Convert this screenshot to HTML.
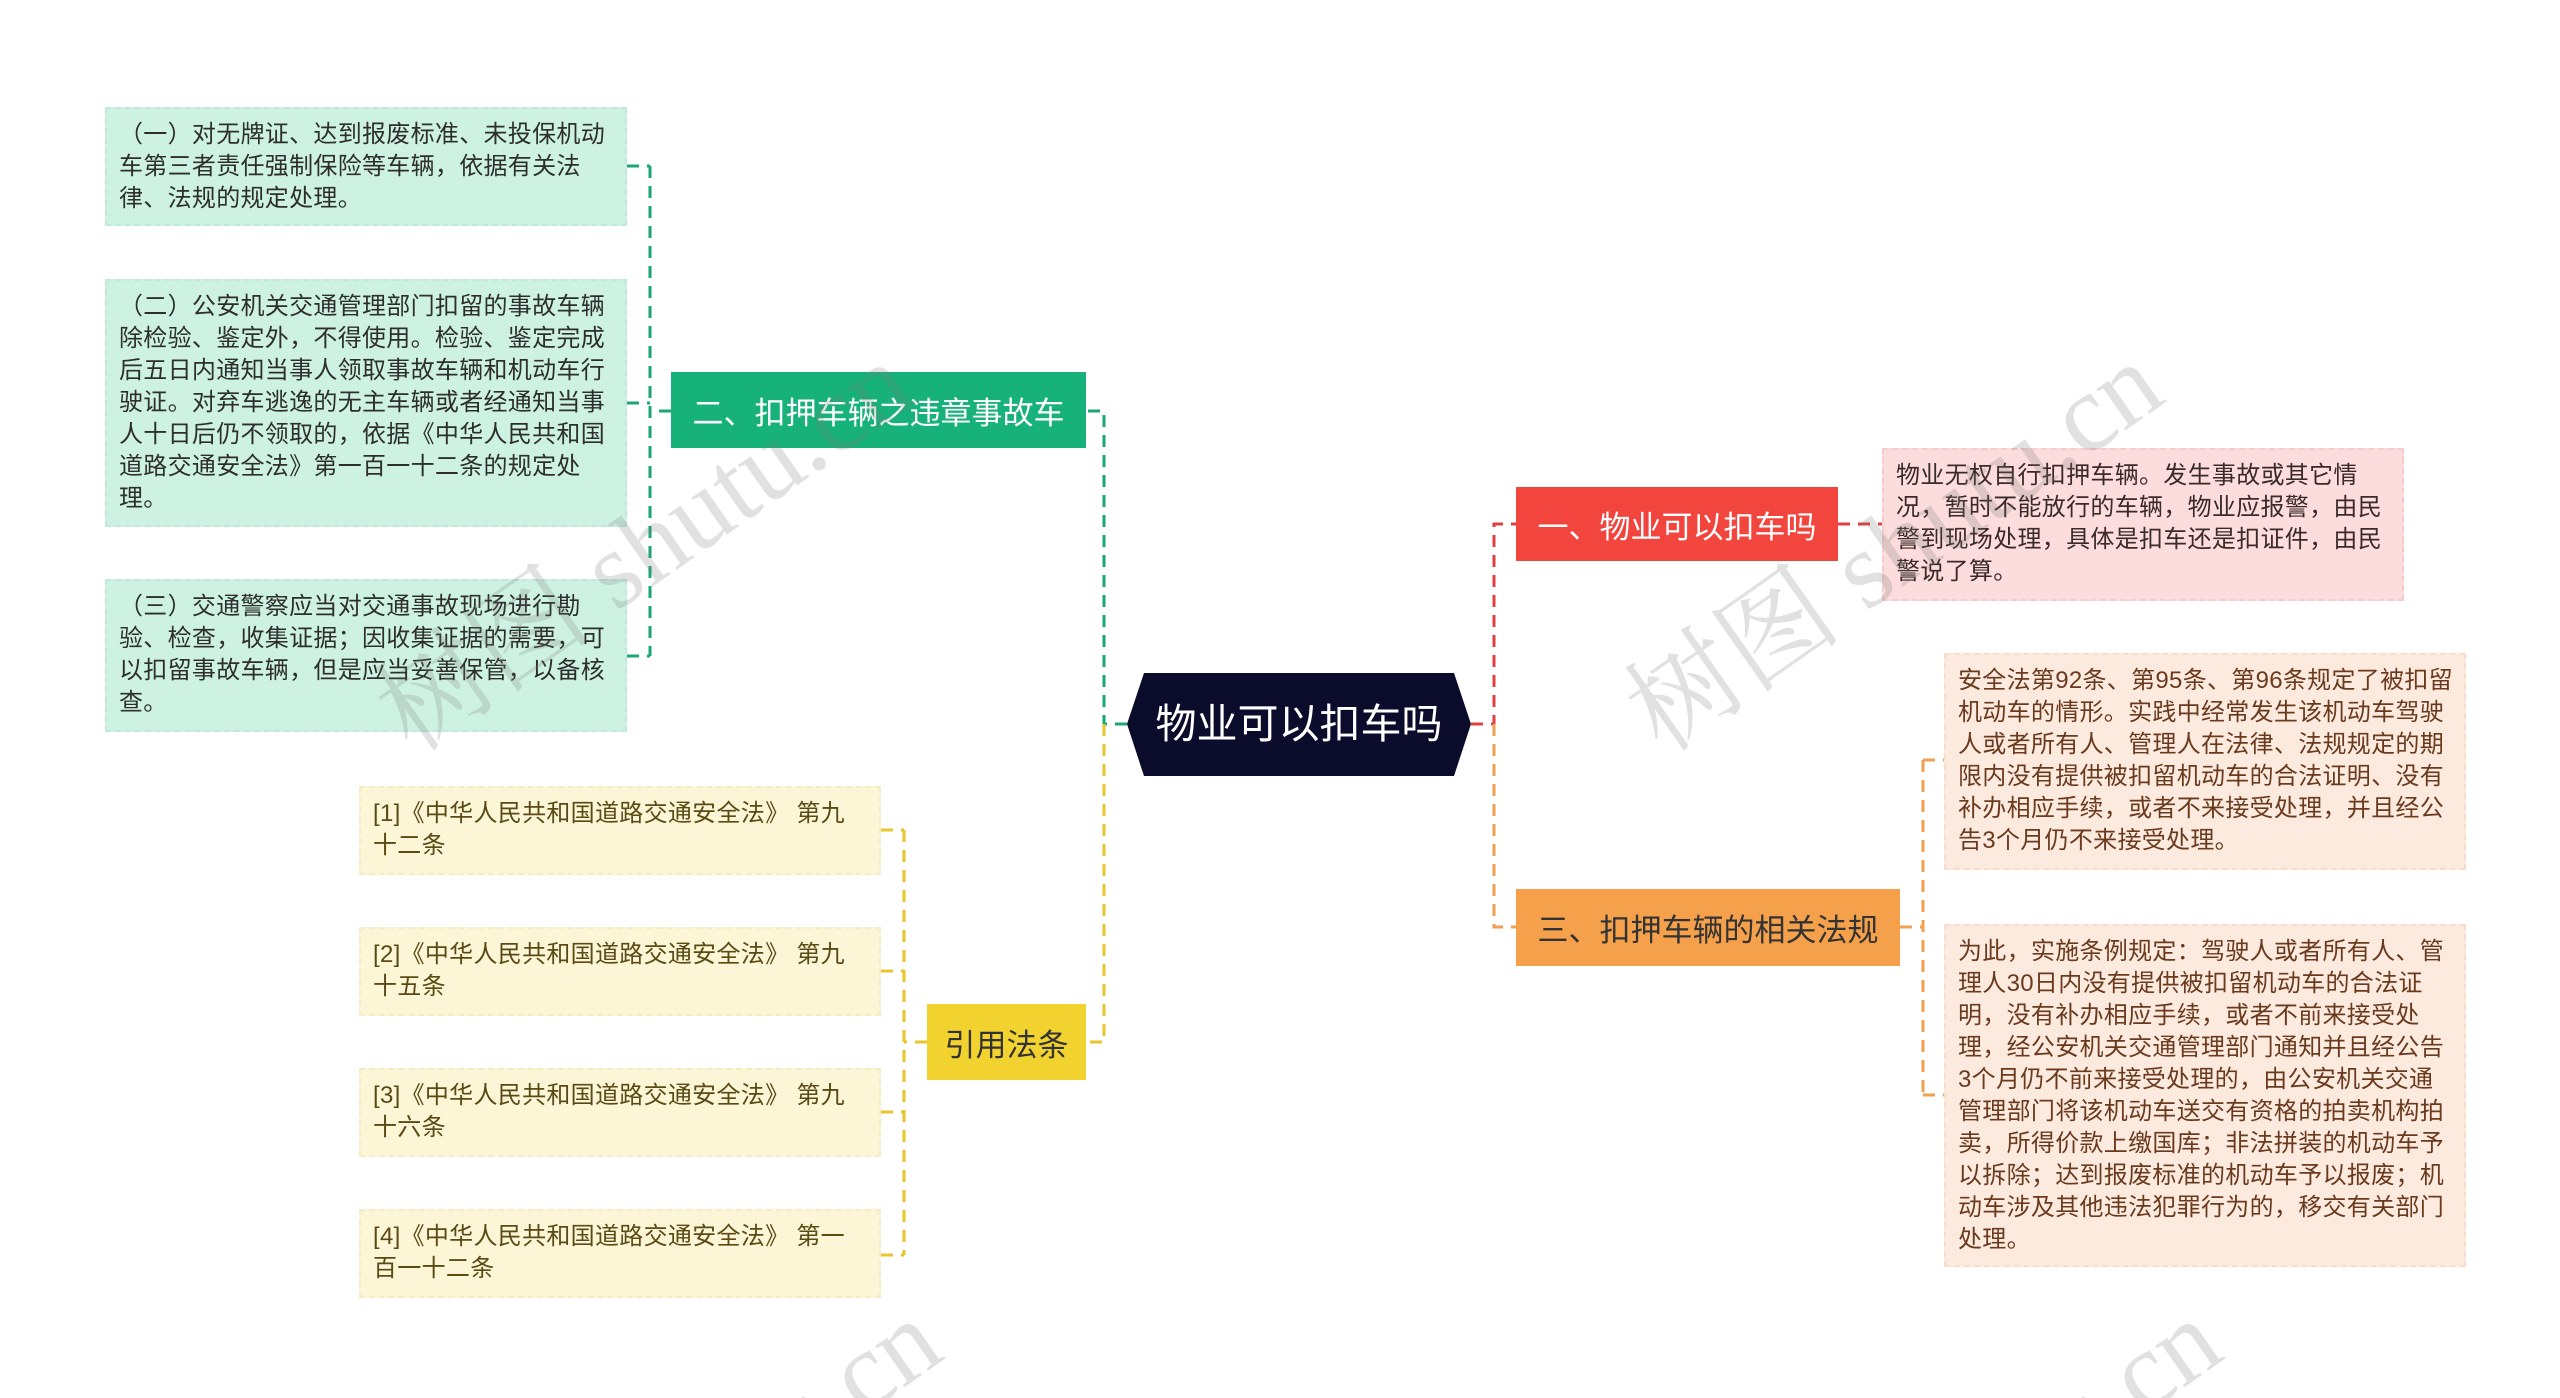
<!DOCTYPE html>
<html style="overflow:hidden;width:2560px;height:1398px;"><head><meta charset="utf-8"><style>
body{margin:0;width:2560px;height:1398px;background:#fff;position:relative;overflow:hidden;font-family:"Liberation Sans","Noto Sans CJK SC",sans-serif;}
#wrap{position:absolute;left:0;top:0;width:2560px;height:1398px;overflow:hidden;}
.b{position:absolute;box-sizing:border-box;font-size:24px;letter-spacing:0.3px;line-height:32px;padding:10px 10px 10px 12px;}
.g{background:#cdf2e2;color:#2e2e2e;border:2px dashed #bfeadb;}
.p{background:#fcdcdc;color:#3a2a2a;border:2px dashed #f5cccc;}
.o{background:#fdeade;color:#6a3a1e;border:2px dashed #f8ddcc;}
.y{background:#fcf5d6;color:#5a4a14;border:2px dashed #f5ecc6;}
.n{position:absolute;box-sizing:border-box;font-size:31px;display:flex;align-items:center;justify-content:center;white-space:nowrap;}
.wm{position:absolute;font-family:"Liberation Serif","Noto Serif CJK SC",serif;font-size:110px;color:rgba(120,120,120,0.22);transform:rotate(-35deg);white-space:nowrap;}
</style></head><body><div id="wrap">
<svg width="2560" height="1398" style="position:absolute;left:0;top:0">
<g fill="none" stroke-width="3" stroke-dasharray="12,8">
<path d="M1127 724 H1104 V411 H1086" stroke="#1aa774"/>
<path d="M1104 724 V1042 H1086" stroke="#e8c52a"/>
<path d="M671 411 H650 M650 166 V656 M627 166 H650 M627 403 H650 M627 656 H650" stroke="#1aa774"/>
<path d="M927 1042 H904 M904 830 V1255 M881 830 H904 M881 971 H904 M881 1112 H904 M881 1255 H904" stroke="#e8c52a"/>
<path d="M1471 724 H1494 V524 H1516" stroke="#e04040"/>
<path d="M1494 724 V927 H1516" stroke="#f0a050"/>
<path d="M1838 524 H1882" stroke="#e04040"/>
<path d="M1900 927 H1923 M1923 760 V1095 M1923 760 H1944 M1923 1095 H1944" stroke="#f0a050"/>
</g>
<polygon points="1127,724 1144,673 1454,673 1471,724 1454,776 1144,776" fill="#0b0b2b"/>
<text x="1299" y="738" fill="#fff" font-size="41" text-anchor="middle" font-family="Liberation Sans, Noto Sans CJK SC, sans-serif">物业可以扣车吗</text>
</svg>
<div class="b g" style="left:105px;top:107px;width:522px;height:119px;">（一）对无牌证、达到报废标准、未投保机动车第三者责任强制保险等车辆，依据有关法律、法规的规定处理。</div>
<div class="b g" style="left:105px;top:279px;width:522px;height:248px;">（二）公安机关交通管理部门扣留的事故车辆除检验、鉴定外，不得使用。检验、鉴定完成后五日内通知当事人领取事故车辆和机动车行驶证。对弃车逃逸的无主车辆或者经通知当事人十日后仍不领取的，依据《中华人民共和国道路交通安全法》第一百一十二条的规定处理。</div>
<div class="b g" style="left:105px;top:579px;width:522px;height:153px;">（三）交通警察应当对交通事故现场进行勘验、检查，收集证据；因收集证据的需要，可以扣留事故车辆，但是应当妥善保管，以备核查。</div>
<div class="n" style="left:671px;top:372px;width:415px;height:76px;background:#17b27a;color:#fff;">二、扣押车辆之违章事故车</div>
<div class="n" style="left:927px;top:1004px;width:159px;height:76px;background:#f2d22e;color:#333;">引用法条</div>
<div class="b y" style="left:359px;top:786px;width:522px;height:89px;">[1]《中华人民共和国道路交通安全法》 第九十二条</div>
<div class="b y" style="left:359px;top:927px;width:522px;height:89px;">[2]《中华人民共和国道路交通安全法》 第九十五条</div>
<div class="b y" style="left:359px;top:1068px;width:522px;height:89px;">[3]《中华人民共和国道路交通安全法》 第九十六条</div>
<div class="b y" style="left:359px;top:1209px;width:522px;height:89px;">[4]《中华人民共和国道路交通安全法》 第一百一十二条</div>
<div class="n" style="left:1516px;top:487px;width:322px;height:74px;background:#f2453d;color:#fff;">一、物业可以扣车吗</div>
<div class="n" style="left:1516px;top:889px;width:384px;height:77px;background:#f5a04a;color:#333;">三、扣押车辆的相关法规</div>
<div class="b p" style="left:1882px;top:448px;width:522px;height:153px;">物业无权自行扣押车辆。发生事故或其它情况，暂时不能放行的车辆，物业应报警，由民警到现场处理，具体是扣车还是扣证件，由民警说了算。</div>
<div class="b o" style="left:1944px;top:653px;width:522px;height:217px;">安全法第92条、第95条、第96条规定了被扣留机动车的情形。实践中经常发生该机动车驾驶人或者所有人、管理人在法律、法规规定的期限内没有提供被扣留机动车的合法证明、没有补办相应手续，或者不来接受处理，并且经公告3个月仍不来接受处理。</div>
<div class="b o" style="left:1944px;top:924px;width:522px;height:343px;">为此，实施条例规定：驾驶人或者所有人、管理人30日内没有提供被扣留机动车的合法证明，没有补办相应手续，或者不前来接受处理，经公安机关交通管理部门通知并且经公告3个月仍不前来接受处理的，由公安机关交通管理部门将该机动车送交有资格的拍卖机构拍卖，所得价款上缴国库；非法拼装的机动车予以拆除；达到报废标准的机动车予以报废；机动车涉及其他违法犯罪行为的，移交有关部门处理。</div>
<div class="wm" style="left:330px;top:460px;">树图 shutu.cn</div>
<div class="wm" style="left:1580px;top:460px;">树图 shutu.cn</div>
<div class="wm" style="left:590px;top:1370px;">shutu.cn</div>
<div class="wm" style="left:1870px;top:1370px;">shutu.cn</div>
</div></body></html>
